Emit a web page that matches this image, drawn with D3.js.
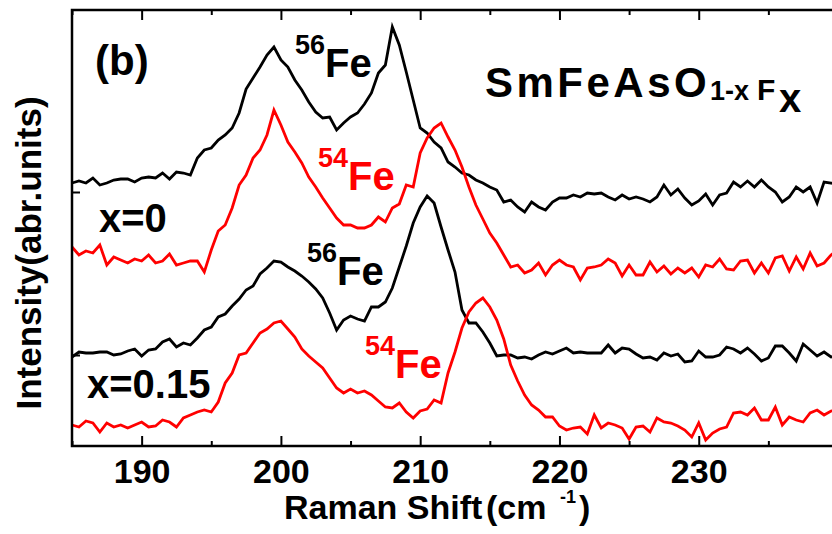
<!DOCTYPE html>
<html>
<head>
<meta charset="utf-8">
<script src="https://cdn.jsdelivr.net/npm/d3@7"></script>
<style>
  body { margin: 0; background: #fff; }
  text { font-family: Arial, "Liberation Sans", sans-serif; font-weight: bold; }
</style>
</head>
<body>
<div class="chart"></div>
<script>
// Raman shift grid (cm-1)
var shift = [
  185, 185.5, 186, 186.5, 187, 187.5, 188, 188.5, 189, 189.5,
  190, 190.5, 191, 191.5, 192, 192.5, 193, 193.5, 194, 194.5,
  195, 195.5, 196, 196.5, 197, 197.5, 198, 198.5, 199, 199.5,
  200, 200.5, 201, 201.5, 202, 202.5, 203, 203.5, 204, 204.5,
  205, 205.5, 206, 206.5, 207, 207.5, 208, 208.5, 209, 209.5,
  210, 210.5, 211, 211.5, 212, 212.5, 213, 213.5, 214, 214.5,
  215, 215.5, 216, 216.5, 217, 217.5, 218, 218.5, 219, 219.5,
  220, 220.5, 221, 221.5, 222, 222.5, 223, 223.5, 224, 224.5,
  225, 225.5, 226, 226.5, 227, 227.5, 228, 228.5, 229, 229.5,
  230, 230.5, 231, 231.5, 232, 232.5, 233, 233.5, 234, 234.5,
  235, 235.5, 236, 236.5, 237, 237.5, 238, 238.5, 239, 239.5,
  240
];

// x=0, 56Fe (offset spectrum)
var fe56x0 = [
  263, 265, 263, 268, 261, 263, 266, 267, 267, 264,
  268, 269, 268, 273, 267, 274, 273, 271, 288, 296,
  298, 306, 311, 318, 333, 357, 368, 379, 391, 399,
  386, 379, 366, 356, 344, 334, 328, 329, 316, 323,
  329, 333, 342, 353, 373, 381, 419, 401, 374, 346,
  318, 313, 304, 298, 284, 279, 273, 271, 266, 263,
  259, 256, 244, 246, 239, 234, 244, 239, 236, 244,
  248, 248, 251, 249, 253, 252, 253, 249, 246, 251,
  247, 249, 247, 244, 249, 261, 251, 257, 248, 241,
  245, 252, 241, 251, 253, 264, 259, 265, 259, 266,
  259, 254, 244, 249, 259, 254, 259, 243, 264, 263,
  261
];

// x=0, 54Fe
var fe54x0 = [
  199, 191, 195, 193, 201, 181, 189, 186, 183, 187,
  185, 191, 183, 185, 192, 181, 183, 185, 185, 174,
  196, 215, 221, 238, 261, 271, 288, 296, 311, 336,
  321, 304, 294, 283, 269, 259, 248, 238, 228, 221,
  221, 218, 218, 221, 229, 224, 238, 242, 261, 259,
  293, 308, 318, 323, 309, 296, 279, 259, 241, 227,
  213, 203, 191, 179, 181, 173, 176, 183, 171, 181,
  186, 181, 179, 166, 178, 179, 181, 187, 183, 170,
  181, 171, 171, 184, 174, 180, 172, 178, 173, 178,
  169, 181, 179, 187, 177, 176, 185, 186, 173, 183,
  173, 188, 190, 175, 189, 177, 193, 180, 183, 191,
  196
];

// x=0.15, 56Fe
var fe56x15 = [
  89, 94, 93, 93, 94, 94, 91, 92, 95, 97,
  90, 96, 97, 104, 107, 99, 103, 101, 108, 116,
  119, 129, 132, 140, 147, 156, 160, 172, 178, 185,
  184, 179, 175, 170, 164, 157, 148, 133, 116, 126,
  130, 127, 125, 139, 139, 144, 158, 179, 200, 223,
  239, 250, 243, 219, 196, 174, 136, 123, 123, 114,
  103, 90, 91, 91, 88, 89, 87, 91, 94, 92,
  95, 98, 93, 94, 93, 93, 93, 101, 93, 98,
  97, 92, 88, 89, 86, 93, 90, 92, 84, 85,
  95, 89, 89, 91, 99, 97, 93, 98, 92, 85,
  88, 100, 100, 93, 85, 102, 96, 90, 94, 89,
  91
];

// x=0.15, 54Fe
var fe54x15 = [
  21, 19, 25, 23, 14, 23, 19, 21, 18, 21,
  24, 19, 20, 26, 24, 19, 28, 31, 34, 36,
  34, 44, 63, 73, 91, 93, 103, 113, 117, 123,
  125, 117, 109, 97, 90, 84, 78, 68, 58, 53,
  57, 53, 55, 51, 45, 39, 38, 43, 34, 28,
  35, 37, 46, 43, 73, 94, 118, 134, 143, 148,
  139, 126, 107, 81, 65, 51, 41, 36, 29, 29,
  20, 16, 18, 19, 12, 31, 18, 23, 21, 18,
  7, 19, 20, 14, 28, 24, 23, 20, 16, 9,
  23, 6, 13, 17, 19, 33, 34, 31, 38, 26,
  26, 39, 21, 29, 26, 24, 33, 36, 31, 35,
  36
];

var majorTicks = [190, 200, 210, 220, 230];
var minorTicks = [185, 195, 205, 215, 225, 235];
var yTicks = [91, 254];

var svgWidth = 832;
var svgHeight = 534;

var margin = { top: 10, right: -6, bottom: 88, left: 72 };
var width = svgWidth - margin.left - margin.right;
var height = svgHeight - margin.top - margin.bottom;

var svg = d3.select(".chart")
  .append("svg")
  .attr("width", svgWidth)
  .attr("height", svgHeight);

var chartGroup = svg.append("g")
  .attr("transform", `translate(${margin.left}, ${margin.top})`);

var xScale = d3.scaleLinear().domain([185, 240]).range([0, width]);
var yScale = d3.scaleLinear().domain([0, 436]).range([height, 0]);

// spectra
var line = d3.line()
  .x(d => xScale(d[0]))
  .y(d => yScale(d[1]));

var curves = [
  { vals: fe56x0, color: "#000" },
  { vals: fe54x0, color: "#f00" },
  { vals: fe56x15, color: "#000" },
  { vals: fe54x15, color: "#f00" }
];

chartGroup.selectAll("path.spec")
  .data(curves)
  .enter()
  .append("path")
  .attr("class", "spec")
  .attr("d", c => line(shift.map((s, i) => [s, c.vals[i]])))
  .attr("fill", "none")
  .attr("stroke", c => c.color)
  .attr("stroke-width", 2.8)
  .attr("stroke-linejoin", "miter");

// axes, ticks pointing inward
function styleAxis(g) {
  g.select(".domain").remove();
  g.selectAll(".tick line").attr("stroke", "#000").attr("stroke-width", 2);
}

chartGroup.append("g")
  .attr("transform", `translate(0, ${height})`)
  .call(d3.axisBottom(xScale).tickValues(majorTicks).tickSize(-10).tickPadding(13).tickFormat(d3.format("d")))
  .call(styleAxis)
  .selectAll("text")
  .attr("font-size", 34)
  .attr("fill", "#000")
  .attr("font-family", "Arial, 'Liberation Sans', sans-serif");

chartGroup.append("g")
  .attr("transform", `translate(0, ${height})`)
  .call(d3.axisBottom(xScale).tickValues(minorTicks).tickSize(-5).tickFormat(""))
  .call(styleAxis);

chartGroup.append("g")
  .call(d3.axisTop(xScale).tickValues(majorTicks).tickSize(-10).tickFormat(""))
  .call(styleAxis);

chartGroup.append("g")
  .call(d3.axisTop(xScale).tickValues(minorTicks).tickSize(-5).tickFormat(""))
  .call(styleAxis);

chartGroup.append("g")
  .call(d3.axisLeft(yScale).tickValues(yTicks).tickSize(-8).tickFormat(""))
  .call(styleAxis);

// frame
chartGroup.append("rect")
  .attr("width", width)
  .attr("height", height)
  .attr("fill", "none")
  .attr("stroke", "#000")
  .attr("stroke-width", 2.5);

// axis titles
var xTitle = svg.append("text")
  .attr("x", 284)
  .attr("y", 519)
  .attr("font-size", 34);
xTitle.append("tspan").text("Raman Shift");
xTitle.append("tspan").attr("x", 486).text("(cm");
xTitle.append("tspan").attr("x", 560).attr("dy", -16).attr("font-size", 18).text("-1");
xTitle.append("tspan").attr("x", 579).attr("dy", 16).text(")");

svg.append("text")
  .attr("transform", "translate(41, 253) rotate(-90)")
  .attr("text-anchor", "middle")
  .attr("font-size", 35)
  .text("Intensity(abr.units)");

// panel label and composition
svg.append("text").attr("x", 95).attr("y", 75).attr("font-size", 42).text("(b)");

var title = svg.append("text").attr("x", 485).attr("y", 97).attr("font-size", 42);
title.append("tspan").attr("letter-spacing", 3.5).text("SmFeAsO");
title.append("tspan").attr("x", 710).attr("y", 100).attr("font-size", 27).text("1-x");
title.append("tspan").attr("x", 757).attr("y", 100).attr("font-size", 30).text("F");
title.append("tspan").attr("x", 779).attr("y", 112).attr("font-size", 40).text("x");

// isotope labels
var isoLabels = [
  { mass: "56", x: 295, y: 77, color: "#000" },
  { mass: "54", x: 318, y: 190, color: "#f00" },
  { mass: "56", x: 307, y: 285, color: "#000" },
  { mass: "54", x: 365, y: 378, color: "#f00" }
];

isoLabels.forEach(d => {
  var t = svg.append("text").attr("x", d.x).attr("y", d.y).attr("fill", d.color);
  t.append("tspan").attr("dy", -23).attr("font-size", 27).text(d.mass);
  t.append("tspan").attr("dy", 23).attr("font-size", 40).text("Fe");
});

// doping labels
svg.append("text").attr("x", 99).attr("y", 232).attr("font-size", 40).text("x=0");
svg.append("text").attr("x", 87).attr("y", 398).attr("font-size", 40).text("x=0.15");
</script>
</body>
</html>
